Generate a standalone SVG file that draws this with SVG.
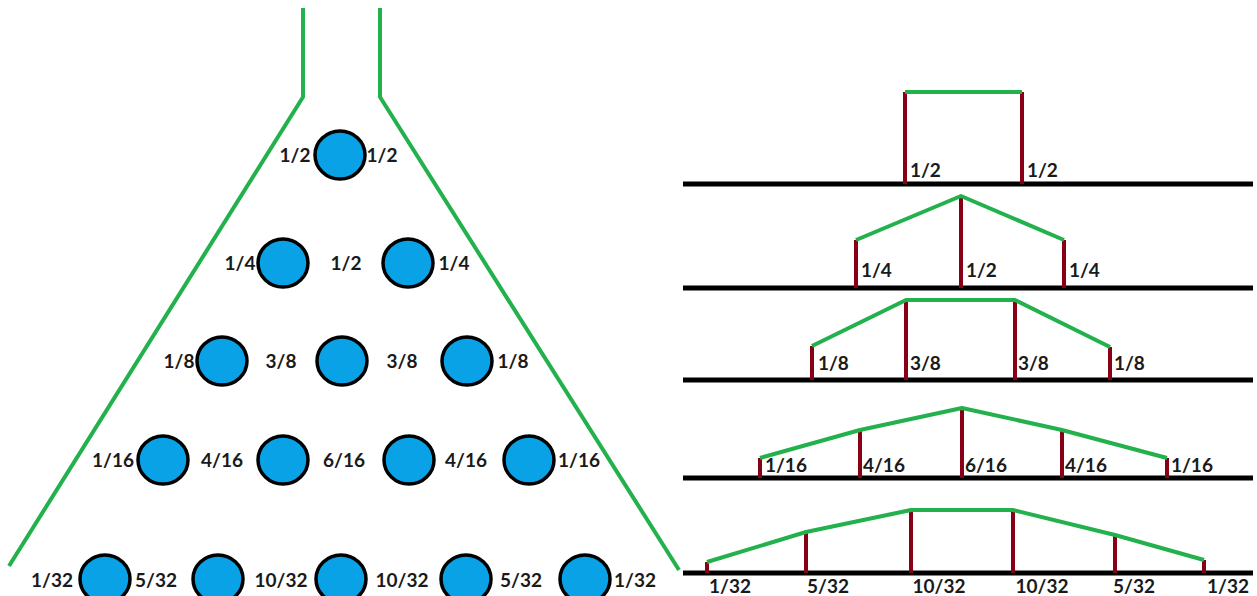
<svg xmlns="http://www.w3.org/2000/svg" width="1257" height="596" viewBox="0 0 1257 596">
<style>
.g{fill:none;stroke:#22B14C;stroke-width:4;stroke-linejoin:round}
.r{stroke:#880015;stroke-width:4}
.k{stroke:#000;stroke-width:5}
.c{fill:#0AA2E6;stroke:#000;stroke-width:3.5}
text{font-family:Lato,"Liberation Sans",sans-serif;font-weight:bold;font-size:19px;fill:#1a1a1a}
.m{text-anchor:middle}
</style>
<rect width="1257" height="596" fill="#fff"/>
<g id="funnel">
<polyline class="g" points="303,8 303,97 9,566"/>
<polyline class="g" points="380,8 380,97 679,570"/>
</g>
<g id="pegs">
<ellipse class="c" cx="340" cy="155" rx="25" ry="24"/>
<ellipse class="c" cx="283" cy="263" rx="25" ry="24"/>
<ellipse class="c" cx="408" cy="263" rx="25" ry="24"/>
<ellipse class="c" cx="222" cy="361" rx="25" ry="24"/>
<ellipse class="c" cx="342" cy="361" rx="25" ry="24"/>
<ellipse class="c" cx="467" cy="361" rx="25" ry="24"/>
<ellipse class="c" cx="163" cy="460" rx="25" ry="24"/>
<ellipse class="c" cx="283" cy="460" rx="25" ry="24"/>
<ellipse class="c" cx="409" cy="460" rx="25" ry="24"/>
<ellipse class="c" cx="529" cy="460" rx="25" ry="24"/>
<ellipse class="c" cx="105" cy="579" rx="25" ry="24"/>
<ellipse class="c" cx="218" cy="579" rx="25" ry="24"/>
<ellipse class="c" cx="341" cy="579" rx="25" ry="24"/>
<ellipse class="c" cx="466" cy="579" rx="25" ry="24"/>
<ellipse class="c" cx="585" cy="579" rx="25" ry="24"/>
</g>
<g id="peg-labels" class="m">
<text x="295" y="162" class="m">1/2</text><text x="382" y="162" class="m">1/2</text>
<text x="240" y="270" class="m">1/4</text><text x="346" y="270" class="m">1/2</text><text x="454" y="270" class="m">1/4</text>
<text x="179" y="368" class="m">1/8</text><text x="281" y="368" class="m">3/8</text><text x="402" y="368" class="m">3/8</text><text x="513" y="368" class="m">1/8</text>
<text x="113" y="467" class="m">1/16</text><text x="222" y="467" class="m">4/16</text><text x="344" y="467" class="m">6/16</text><text x="466" y="467" class="m">4/16</text><text x="579" y="467" class="m">1/16</text>
<text x="52" y="587" class="m">1/32</text><text x="156" y="587" class="m">5/32</text><text x="281" y="587" class="m">10/32</text><text x="402" y="587" class="m">10/32</text><text x="521" y="587" class="m">5/32</text><text x="635" y="587" class="m">1/32</text>
</g>
<g id="connectors">
<line class="k" x1="683" y1="184" x2="1253" y2="184"/>
<line class="k" x1="683" y1="288" x2="1253" y2="288"/>
<line class="k" x1="683" y1="380" x2="1253" y2="380"/>
<line class="k" x1="683" y1="478" x2="1253" y2="478"/>
<line class="k" x1="683" y1="573" x2="1253" y2="573"/>
<line class="r" x1="905" y1="92" x2="905" y2="184"/><line class="r" x1="1022" y1="92" x2="1022" y2="184"/>
<polyline class="g" points="905,92 1022,92"/>
<line class="r" x1="856" y1="240" x2="856" y2="288"/><line class="r" x1="961" y1="196" x2="961" y2="288"/><line class="r" x1="1064" y1="240" x2="1064" y2="288"/>
<polyline class="g" points="856,240 961,196 1064,240"/>
<line class="r" x1="812" y1="346" x2="812" y2="380"/><line class="r" x1="906" y1="300" x2="906" y2="380"/><line class="r" x1="1015" y1="300" x2="1015" y2="380"/><line class="r" x1="1110" y1="347" x2="1110" y2="380"/>
<polyline class="g" points="812,346 906,300 1015,300 1110,347"/>
<line class="r" x1="760" y1="458" x2="760" y2="478"/><line class="r" x1="860" y1="430" x2="860" y2="478"/><line class="r" x1="962" y1="408" x2="962" y2="478"/><line class="r" x1="1062" y1="430" x2="1062" y2="478"/><line class="r" x1="1167" y1="458" x2="1167" y2="478"/>
<polyline class="g" points="760,458 860,430 962,408 1062,430 1167,458"/>
<line class="r" x1="707" y1="562" x2="707" y2="573"/><line class="r" x1="806" y1="532" x2="806" y2="573"/><line class="r" x1="911" y1="510" x2="911" y2="573"/><line class="r" x1="1013" y1="510" x2="1013" y2="573"/><line class="r" x1="1115" y1="535" x2="1115" y2="573"/><line class="r" x1="1204" y1="560" x2="1204" y2="573"/>
<polyline class="g" points="707,562 806,532 911,510 1013,510 1115,535 1204,560"/>
</g>
<g id="bar-labels">
<text x="910" y="177">1/2</text><text x="1027" y="177">1/2</text>
<text x="861" y="277">1/4</text><text x="966" y="277">1/2</text><text x="1069" y="277">1/4</text>
<text x="818" y="370">1/8</text><text x="910" y="370">3/8</text><text x="1018" y="370">3/8</text><text x="1114" y="370">1/8</text>
<text x="765" y="472">1/16</text><text x="863" y="472">4/16</text><text x="965" y="472">6/16</text><text x="1065" y="472">4/16</text><text x="1171" y="472">1/16</text>
<text x="730" y="593" class="m">1/32</text><text x="828" y="593" class="m">5/32</text><text x="939" y="593" class="m">10/32</text><text x="1042" y="593" class="m">10/32</text><text x="1134" y="593" class="m">5/32</text><text x="1228" y="593" class="m">1/32</text>
</g>
</svg>
